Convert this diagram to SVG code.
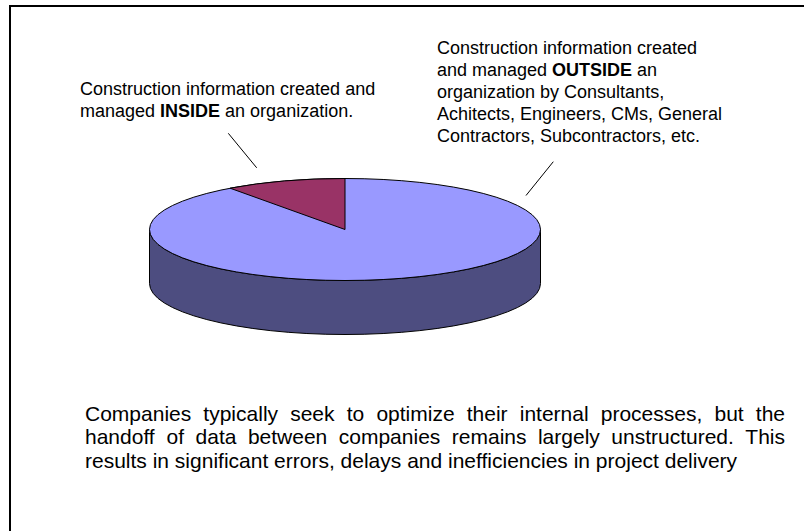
<svg xmlns="http://www.w3.org/2000/svg" width="804" height="531" viewBox="0 0 804 531">
<style>
  .t { font-family: "Liberation Sans", Arial, sans-serif; font-size: 18px; fill: #000; }
  .p { font-family: "Liberation Sans", Arial, sans-serif; font-size: 21px; fill: #000; }
  .b { font-weight: bold; }
  .edge { stroke: #000; stroke-width: 1; stroke-linejoin: round; }
  .lead { stroke: #000; stroke-width: 1; fill: none; }
</style>
<rect x="0" y="0" width="804" height="531" fill="#fff"/>
<rect id="frame" x="10" y="6" width="820" height="540" fill="none" stroke="#000" stroke-width="2"/>
<g id="pie">
  <path id="pie-side" class="edge" fill="#4D4D80" d="M149.5,229.5 L149.5,283.5 A195.5,51 0 0,0 540.5,283.5 L540.5,229.5 A195.5,51 0 0,1 149.5,229.5 Z"/>
  <ellipse id="slice-outside" class="edge" fill="#9999FF" cx="345" cy="229.5" rx="195.5" ry="51"/>
  <path id="slice-inside" class="edge" fill="#993366" d="M345,229.5 L345,178.5 A195.5,51 0 0,0 230.1,188.2 Z"/>
</g>
<g id="connectors">
  <line class="lead" x1="228.3" y1="133.3" x2="256.7" y2="167.8"/>
  <line class="lead" x1="553.3" y1="161.7" x2="526" y2="195.5"/>
</g>
<g id="label-inside">
  <text class="t" x="80" y="95">Construction information created and</text>
  <text class="t" x="80" y="117">managed <tspan class="b">INSIDE</tspan> an organization.</text>
</g>
<g id="label-outside">
  <text class="t" x="437" y="53.5">Construction information created</text>
  <text class="t" x="437" y="75.5">and managed <tspan class="b">OUTSIDE</tspan> an</text>
  <text class="t" x="437" y="97.5">organization by Consultants,</text>
  <text class="t" x="437" y="119.5">Achitects, Engineers, CMs, General</text>
  <text class="t" x="437" y="141.5">Contractors, Subcontractors, etc.</text>
</g>
<g id="caption">
  <text class="p" y="420.5"><tspan x="85">Companies</tspan><tspan x="203.36">typically</tspan><tspan x="290.2">seek</tspan><tspan x="346.71">to</tspan><tspan x="376.39">optimize</tspan><tspan x="466.73">their</tspan><tspan x="519.74">internal</tspan><tspan x="600.76">processes,</tspan><tspan x="714.46">but</tspan><tspan x="755.81">the</tspan></text>
  <text class="p" y="444"><tspan x="85">handoff</tspan><tspan x="166.54">of</tspan><tspan x="195.55">data</tspan><tspan x="247.9">between</tspan><tspan x="338.77">companies</tspan><tspan x="451.79">remains</tspan><tspan x="537.96">largely</tspan><tspan x="611.29">unstructured.</tspan><tspan x="745.34">This</tspan></text>
  <text class="p" x="85" y="467.5">results in significant errors, delays and inefficiencies in project delivery</text>
</g>
</svg>
